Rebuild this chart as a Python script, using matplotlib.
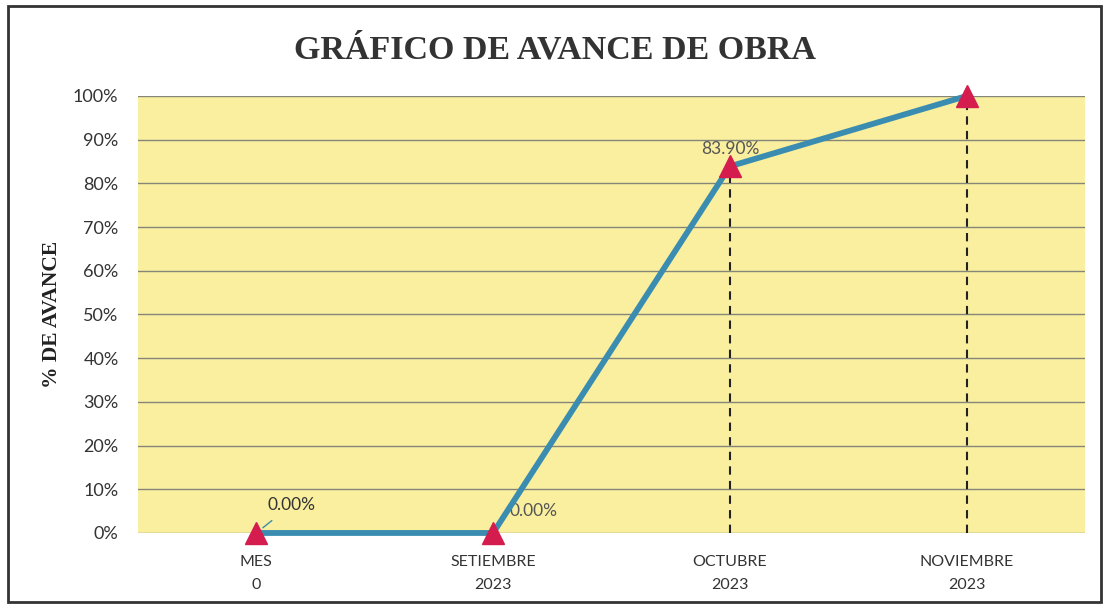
import numpy as np
from matplotlib import pyplot as plt
from matplotlib.patches import Rectangle

# Data
meses = ['MES\n0', 'SETIEMBRE\n2023', 'OCTUBRE\n2023', 'NOVIEMBRE\n2023']
avance = [0.0, 0.0, 83.90, 100.0]
etiquetas = ['0.00%', '0.00%', '83.90%', '']
yticks = [0, 10, 20, 30, 40, 50, 60, 70, 80, 90, 100]

lineColor = '#3a8db0'
markColor = '#d41c4e'
bgColor = '#f9ef9f'

fig = plt.figure(figsize=(11.09, 6.06), dpi=100)
ax = fig.add_axes([0.1244, 0.1205, 0.854, 0.7211])
ax.set_facecolor(bgColor)

x = np.arange(len(meses))

# drop lines for the last two points
for i in [2, 3]:
	ax.plot([x[i], x[i]], [0, avance[i]], color='#222222', linestyle=(0, (4, 3)), lw=1.5, zorder=2)

ax.plot(x, avance, color=lineColor, lw=4.2, zorder=3, clip_on=False)
ax.plot(x, avance, linestyle='none', marker='^', markersize=16, color=markColor, zorder=4, clip_on=False)

# data labels
ax.annotate(etiquetas[0], xy=(x[0], avance[0]), xytext=(x[0] + 0.15, 6.5),
	fontsize=12.5, color='#333333', fontfamily='Lato', ha='center', va='center',
	arrowprops=dict(arrowstyle='-', color=lineColor, lw=1, shrinkA=6, shrinkB=6))
ax.text(x[1] + 0.17, 5.0, etiquetas[1], fontsize=12.5, color='#555555', fontfamily='Lato', ha='center', va='center', zorder=2)
ax.text(x[2], avance[2] + 4.0, etiquetas[2], fontsize=12.5, color='#555555', fontfamily='Lato', ha='center', va='center', zorder=5)

ax.set_xlim(-0.5, 3.5)
ax.set_ylim(0, 100)
ax.set_yticks(yticks)
ax.set_yticklabels([f'{v}%' for v in yticks], fontfamily='Lato', fontsize=13, color='#333333')
ax.set_xticks(x)
ax.set_xticklabels(meses, fontfamily='Lato', fontsize=11.5, color='#333333', linespacing=1.8)
ax.tick_params(axis='y', length=0, pad=14)
ax.tick_params(axis='x', length=0, pad=16)
ax.grid(axis='y', color='#85857a', lw=1)
ax.set_axisbelow(True)
for s in ax.spines.values():
	s.set_visible(False)

ax.set_ylabel('% DE AVANCE', fontfamily='Liberation Serif', fontweight='bold', fontsize=15.5, color='#222222', labelpad=8)
fig.text(0.5, 0.918, 'GRÁFICO DE AVANCE DE OBRA', fontfamily='Liberation Serif', fontweight='bold',
	fontsize=24.5, color='#333333', ha='center', va='center')

# border around the chart
fig.patches.append(Rectangle((0.007, 0.006), 0.986, 0.984, transform=fig.transFigure,
	fill=False, edgecolor='#333333', lw=2))

fig.savefig('out.png', dpi=100)
